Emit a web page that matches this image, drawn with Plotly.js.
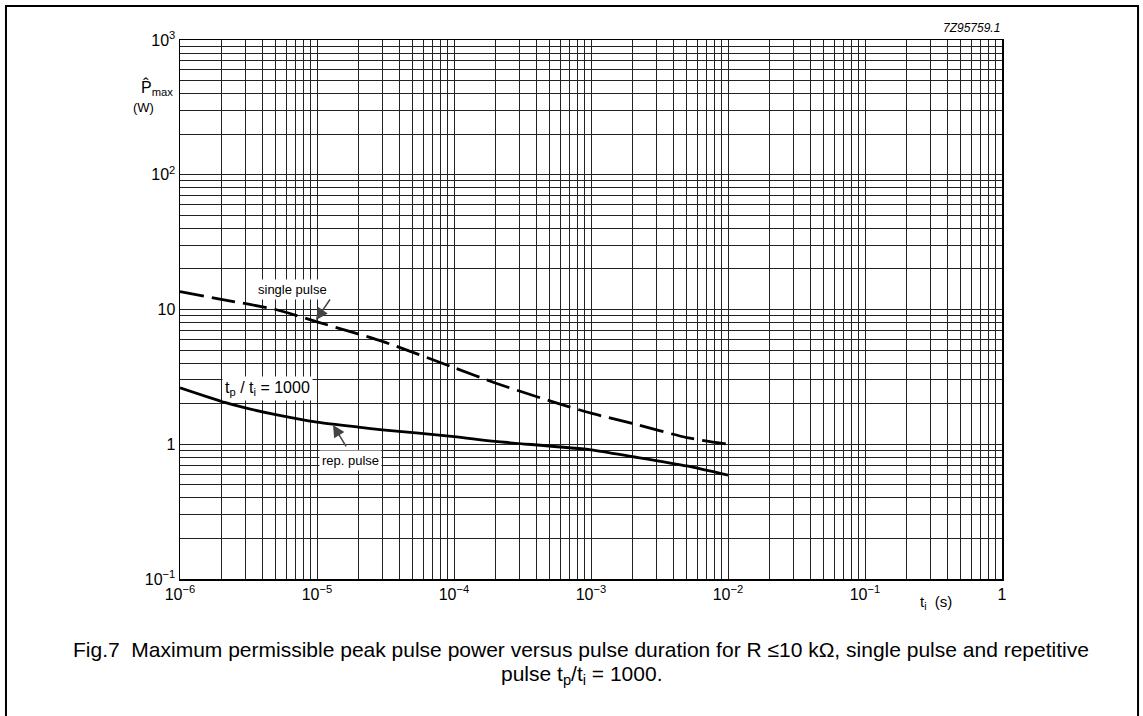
<!DOCTYPE html>
<html>
<head>
<meta charset="utf-8">
<script src="https://cdn.plot.ly/plotly-3.0.1.min.js"></script>
<style>
html,body{margin:0;padding:0;background:#fff;}
#chart{width:1143px;height:716px;}
</style>
</head>
<body>
<div id="chart"></div>
<script>
// Single pulse (dashed curve): pulse duration t_i (s) and max peak power (W)
const singleX = [1e-6, 2e-6, 5e-6, 1e-5, 3e-5, 1e-4, 2e-4, 5e-4, 1e-3, 2e-3, 5e-3, 1e-2];
const singleY = [13.6, 11.9, 10.0, 8.1, 5.8, 3.7, 2.85, 2.1, 1.7, 1.43, 1.12, 1.0];
// Repetitive pulse tp/ti = 1000 (solid curve)
const repX = [1e-6, 2e-6, 3e-6, 5e-6, 1e-5, 2e-5, 3e-5, 1e-4, 2e-4, 1e-3, 2e-3, 5e-3, 1e-2];
const repY = [2.62, 2.08, 1.86, 1.66, 1.46, 1.34, 1.28, 1.14, 1.05, 0.91, 0.81, 0.69, 0.59];
// Axis decades and labels
const xDecades = [-6, -5, -4, -3, -2, -1, 0];
const xLabels = ["10<sup>\u22126</sup>", "10<sup>\u22125</sup>", "10<sup>\u22124</sup>", "10<sup>\u22123</sup>", "10<sup>\u22122</sup>", "10<sup>\u22121</sup>", "1"];
const yDecades = [-1, 0, 1, 2, 3];
const yLabels = ["10<sup>\u22121</sup>", "1", "10", "10<sup>2</sup>", "10<sup>3</sup>"];

function gridTicks(decades, labels) {
  const vals = [], text = [];
  decades.forEach((d, i) => {
    const base = Math.pow(10, d);
    vals.push(base); text.push(labels[i]);
    if (i < decades.length - 1) {
      for (let m = 2; m <= 9; m++) { vals.push(m * base); text.push(""); }
    }
  });
  return {vals, text};
}
const xt = gridTicks(xDecades, xLabels);
const yt = gridTicks(yDecades, yLabels);

const font = "Liberation Sans, Arial, sans-serif";

const traces = [
  {x: singleX, y: singleY, type: "scatter", mode: "lines", line: {color: "#000", width: 2.8, dash: "24px,8px", shape: "spline", smoothing: 0.6}, hoverinfo: "skip"},
  {x: repX, y: repY, type: "scatter", mode: "lines", line: {color: "#000", width: 2.8, shape: "spline", smoothing: 0.6}, hoverinfo: "skip"}
];

const layout = {
  width: 1143, height: 716,
  margin: {l: 180, r: 141, t: 40, b: 137},
  paper_bgcolor: "#fff", plot_bgcolor: "#fff",
  showlegend: false,
  font: {family: font, color: "#000", size: 16},
  xaxis: {
    type: "log", range: [-6, 0], tickmode: "array", tickvals: xt.vals, ticktext: xt.text,
    showgrid: true, gridcolor: "#222", gridwidth: 1, zeroline: false,
    showline: true, mirror: true, linecolor: "#000", linewidth: 1.5,
    ticks: "", tickfont: {size: 16, family: font}
  },
  yaxis: {
    type: "log", range: [-1, 3], tickmode: "array", tickvals: yt.vals, ticktext: yt.text,
    showgrid: true, gridcolor: "#222", gridwidth: 1, zeroline: false,
    showline: true, mirror: true, linecolor: "#000", linewidth: 1.5,
    ticks: "", tickfont: {size: 16, family: font}
  },
  annotations: [
    {xref: "paper", yref: "paper", x: -0.006, y: 0.911, xanchor: "right", yanchor: "middle", showarrow: false, text: "P\u0302<sub>max</sub>", font: {size: 16}},
    {xref: "paper", yref: "paper", x: -0.029, y: 0.874, xanchor: "right", yanchor: "middle", showarrow: false, text: "(W)", font: {size: 13}},
    {xref: "paper", yref: "paper", x: 1.0, y: 1.005, xanchor: "right", yanchor: "bottom", showarrow: false, text: "<i>7Z95759.1</i>", font: {size: 12}},
    {xref: "x", yref: "paper", x: -0.482, y: -0.022, xanchor: "center", yanchor: "top", showarrow: false, text: "t<sub>i</sub>  (s)", font: {size: 15}},
    {xref: "x", yref: "y", x: -5.182, y: 1.152, showarrow: false, text: "single pulse", bgcolor: "#fff", borderpad: 2, font: {size: 13}},
    {xref: "x", yref: "y", x: -5.007, y: 0.922, showarrow: true, arrowhead: 2, arrowsize: 1.6, arrowwidth: 1.5, ax: 15, ay: -22, text: ""},
    {xref: "x", yref: "y", x: -5.358, y: 0.417, showarrow: false, text: "t<sub>p</sub> / t<sub>i</sub> = 1000", bgcolor: "#fff", borderpad: 2, font: {size: 16}},
    {xref: "x", yref: "y", x: -4.759, y: -0.124, showarrow: false, text: "rep. pulse", bgcolor: "#fff", borderpad: 2, font: {size: 13}},
    {xref: "x", yref: "y", x: -4.883, y: 0.143, showarrow: true, arrowhead: 2, arrowsize: 1.6, arrowwidth: 1.5, ax: 14, ay: 23, text: ""},
    {xref: "paper", yref: "paper", x: 0.488, y: -0.13, xanchor: "center", yanchor: "middle", showarrow: false, text: "Fig.7  Maximum permissible peak pulse power versus pulse duration for R \u226410 k\u03A9, single pulse and repetitive", font: {size: 21}},
    {xref: "paper", yref: "paper", x: 0.488, y: -0.178, xanchor: "center", yanchor: "middle", showarrow: false, text: "pulse t<sub>p</sub>/t<sub>i</sub> = 1000.", font: {size: 21}}
  ],
  shapes: [
    {type: "rect", xref: "paper", yref: "paper", x0: -0.2117, x1: 1.1655, y0: -0.26, y1: 1.063, line: {color: "#000", width: 2}, fillcolor: "rgba(0,0,0,0)", layer: "below"}
  ]
};

Plotly.newPlot("chart", traces, layout, {staticPlot: true, displayModeBar: false});
</script>
</body>
</html>
